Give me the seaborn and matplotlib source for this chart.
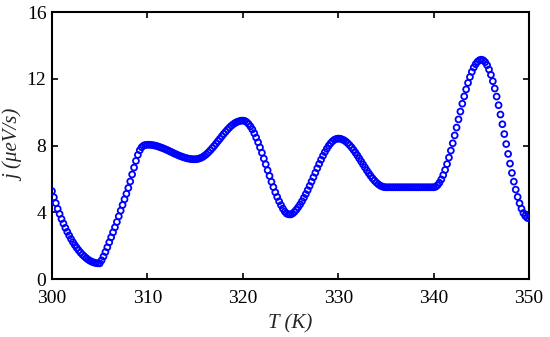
import numpy as np
import pandas as pd
import matplotlib
matplotlib.use("Agg")
import matplotlib.pyplot as plt
import seaborn as sns

# temperature grid (K), 0.2 K step, 300..350
T_START = 300.0
T_STEP = 0.2

# j values (ueV/s), one per 0.2 K
j_300_305 = [5.27, 4.90, 4.55, 4.21, 3.90, 3.60, 3.33, 3.07, 2.83, 2.61,
             2.40, 2.21, 2.03, 1.87, 1.72, 1.58, 1.46, 1.35, 1.25, 1.16,
             1.09, 1.03, 0.99, 0.96, 0.94]
j_305_310 = [0.94, 1.12, 1.35, 1.62, 1.90, 2.20, 2.50, 2.80, 3.10, 3.42,
             3.76, 4.10, 4.44, 4.78, 5.11, 5.46, 5.85, 6.27, 6.68, 7.08,
             7.44, 7.72, 7.90, 8.00, 8.04]
j_310_315 = [8.05, 8.05, 8.04, 8.02, 8.00, 7.97, 7.93, 7.89, 7.85, 7.80,
             7.75, 7.70, 7.64, 7.59, 7.53, 7.48, 7.43, 7.38, 7.34, 7.30,
             7.26, 7.23, 7.21, 7.19, 7.18]
j_315_320 = [7.18, 7.19, 7.22, 7.26, 7.32, 7.40, 7.49, 7.60, 7.72, 7.85,
             7.98, 8.12, 8.27, 8.41, 8.56, 8.70, 8.83, 8.96, 9.08, 9.19,
             9.28, 9.36, 9.42, 9.46, 9.49]
j_320_325 = [9.50, 9.48, 9.41, 9.30, 9.15, 8.97, 8.74, 8.48, 8.20, 7.89,
             7.57, 7.22, 6.88, 6.52, 6.18, 5.83, 5.51, 5.20, 4.92, 4.66,
             4.43, 4.22, 4.04, 3.92, 3.88]
j_325_330 = [3.87, 3.92, 4.02, 4.15, 4.30, 4.47, 4.66, 4.87, 5.09, 5.33,
             5.58, 5.84, 6.10, 6.37, 6.64, 6.90, 7.15, 7.39, 7.61, 7.81,
             7.99, 8.14, 8.26, 8.35, 8.40]
j_330_335 = [8.42, 8.41, 8.37, 8.32, 8.24, 8.14, 8.02, 7.89, 7.74, 7.58,
             7.41, 7.23, 7.05, 6.87, 6.69, 6.51, 6.34, 6.18, 6.03, 5.90,
             5.78, 5.68, 5.60, 5.55, 5.51]
j_335_340 = [5.50, 5.50, 5.50, 5.50, 5.50, 5.50, 5.50, 5.50, 5.50, 5.50,
             5.50, 5.50, 5.50, 5.50, 5.50, 5.50, 5.50, 5.50, 5.50, 5.50,
             5.50, 5.50, 5.50, 5.50, 5.50]
j_340_345 = [5.50, 5.53, 5.62, 5.77, 5.97, 6.23, 6.54, 6.89, 7.28, 7.70,
             8.14, 8.61, 9.08, 9.57, 10.04, 10.51, 10.95, 11.37, 11.76, 12.11,
             12.42, 12.68, 12.88, 13.03, 13.12]
j_345_350 = [13.15, 13.11, 13.00, 12.82, 12.56, 12.24, 11.86, 11.42, 10.94, 10.42,
             9.86, 9.28, 8.69, 8.09, 7.50, 6.92, 6.36, 5.84, 5.36, 4.92,
             4.54, 4.22, 3.96, 3.78, 3.67, 3.63]

x_ticks = [300, 310, 320, 330, 340, 350]
y_ticks = [0, 4, 8, 12, 16]

j_vals = (j_300_305 + j_305_310 + j_310_315 + j_315_320 + j_320_325 +
          j_325_330 + j_330_335 + j_335_340 + j_340_345 + j_345_350)
T_vals = [round(T_START + T_STEP * i, 1) for i in range(len(j_vals))]
df = pd.DataFrame({"T": T_vals, "j": j_vals})

sns.set_style("ticks")
plt.rcParams['font.family'] = ['Liberation Serif', 'DejaVu Serif']

fig = plt.figure(figsize=(5.5, 3.37), dpi=100)
ax = fig.add_axes([0.0945, 0.172, 0.8675, 0.792])

sns.scatterplot(data=df, x="T", y="j", ax=ax, marker="o", s=18,
                facecolors="none", edgecolor="#0000ff", linewidth=1.3,
                legend=False, zorder=3)

ax.set_xlim(300, 350)
ax.set_ylim(0, 16)
ax.set_xticks(x_ticks)
ax.set_yticks(y_ticks)
ax.tick_params(direction="in", length=4, width=1.2, top=True, right=True,
               labelsize=14, colors="black", pad=4)
ax.tick_params(axis="x", pad=8)
for sp in ax.spines.values():
    sp.set_linewidth(1.5)
    sp.set_color("black")

ax.set_xlabel("T (K)", fontsize=15, fontstyle="italic", labelpad=5)
ax.set_ylabel("j (μeV/s)", fontsize=15, fontstyle="italic", labelpad=2)

fig.savefig("out.png", dpi=100)
